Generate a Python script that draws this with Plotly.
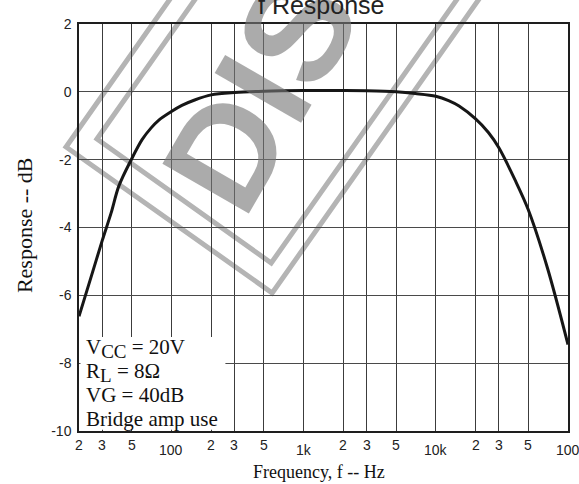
import math
import plotly.graph_objects as go

# ---- data ----
freq_hz = [20, 25, 30, 35, 40, 50, 60, 70, 80, 100, 120, 150, 200, 300, 500,
           1000, 2000, 3000, 5000, 7000, 10000, 12500, 15000, 20000, 25000,
           30000, 40000, 50000, 70000, 100000]
response_db = [-6.62, -5.39, -4.38, -3.57, -2.78, -1.98, -1.41, -1.07, -0.84,
               -0.58, -0.40, -0.24, -0.09, -0.02, 0.02, 0.04, 0.04, 0.03,
               0.00, -0.05, -0.13, -0.26, -0.42, -0.80, -1.20, -1.65, -2.62,
               -3.47, -5.20, -7.45]

x_grid_vals = [30, 50, 100, 200, 300, 500, 1000, 2000, 3000, 5000,
               10000, 20000, 30000, 50000]
x_tick_vals = [20, 30, 50, 100, 200, 300, 500, 1000, 2000, 3000, 5000,
               10000, 20000, 30000, 50000, 100000]
x_tick_text = ["2", "3", "5", "100", "2", "3", "5", "1k", "2", "3", "5",
               "10k", "2", "3", "5", "100"]
x_tick_major = [False, False, False, True, False, False, False, True, False,
                False, False, True, False, False, False, True]
y_tick_vals = [-10, -8, -6, -4, -2, 0, 2]
note_lines = ["V<sub><span style='font-size:19px'>CC</span></sub> = 20V",
              "R<sub><span style='font-size:19px'>L</span></sub> = 8Ω",
              "VG = 40dB",
              "Bridge amp use"]

# ---- layout geometry (pixels) ----
W, H = 579, 484
L, R, T, B = 79, 9, 24, 53
PW, PH = W - L - R, H - T - B


def px(xp):
    return (xp - L) / PW


def py(yp):
    return (H - B - yp) / PH


SANS = "Liberation Sans, Arial, sans-serif"
SERIF = "Liberation Serif, Times New Roman, serif"

fig = go.Figure()
fig.add_trace(go.Scatter(
    x=freq_hz, y=response_db, mode="lines",
    line=dict(color="#161616", width=3, shape="spline", smoothing=0.9),
    showlegend=False, hoverinfo="skip"))

fig.update_layout(
    width=W, height=H,
    margin=dict(l=L, r=R, t=T, b=B, pad=0),
    paper_bgcolor="white", plot_bgcolor="white",
    showlegend=False,
    xaxis=dict(type="log", range=[math.log10(20), math.log10(100000)],
               tickvals=x_grid_vals, showticklabels=False, ticks="",
               showgrid=True, gridcolor="#3c3c3c", gridwidth=1,
               showline=True, mirror=True, linecolor="#1e1e1e", linewidth=1.5,
               zeroline=False, fixedrange=True),
    yaxis=dict(range=[-10, 2], tickvals=y_tick_vals,
               ticktext=[str(v) for v in y_tick_vals], ticks="",
               ticklabelstandoff=3,
               tickfont=dict(family=SANS, size=14, color="#222"),
               showgrid=True, gridcolor="#4a4a4a", gridwidth=1,
               showline=True, mirror=True, linecolor="#1e1e1e", linewidth=1.5,
               zeroline=False, fixedrange=True),
)

shapes = []


# watermark stamp outlines
def path_px(points):
    s = ""
    for i, (a, b) in enumerate(points):
        s += ("M" if i == 0 else "L") + f"{px(a):.4f},{py(b):.4f} "
    return s.strip()


for pts in ([(193, -33), (66, 147), (273, 293), (504, -34)],
            [(212, -24), (97, 139), (272, 263), (480, -31)]):
    shapes.append(dict(type="path", xref="paper", yref="paper",
                       path=path_px(pts),
                       line=dict(color="#b4b4b4", width=5), layer="below"))

# white box behind the condition text (inset so the frame stays visible)
shapes.append(dict(type="rect", xref="paper", yref="paper",
                   x0=px(80.5), x1=px(226), y0=py(429.8), y1=py(337),
                   fillcolor="white", line=dict(width=0), layer="above"))
fig.update_layout(shapes=shapes)

ann = []
# watermark text
ann.append(dict(text="<b>DIS</b>", xref="paper", yref="paper",
                x=px(262), y=py(92), xanchor="center", yanchor="middle",
                textangle=-60, showarrow=False,
                font=dict(family=SANS, size=145, color="rgba(120,120,120,0.62)")))

# x tick labels
for v, t, major in zip(x_tick_vals, x_tick_text, x_tick_major):
    ann.append(dict(text=t, x=math.log10(v), xref="x", yref="paper",
                    y=py(440.3 if major else 435.3), xanchor="center",
                    yanchor="top", showarrow=False, borderpad=1,
                    font=dict(family=SANS, size=14, color="#222")))

# condition text lines
for i, line in enumerate(note_lines):
    ann.append(dict(text=line, xref="paper", yref="paper", x=px(84),
                    y=py(333.3 + 24 * i), xanchor="left", yanchor="top",
                    showarrow=False, borderpad=1,
                    font=dict(family=SERIF, size=21, color="#111")))

# title & axis titles
ann.append(dict(text="f Response", xref="paper", yref="paper",
                x=px(322.4), y=py(-10.6), xanchor="center", yanchor="top",
                showarrow=False, borderpad=1,
                font=dict(family=SANS, size=25, color="#222")))
ann.append(dict(text="Frequency, f -- Hz", xref="paper", yref="paper",
                x=px(320), y=py(460.3), xanchor="center", yanchor="top",
                showarrow=False, borderpad=1,
                font=dict(family=SERIF, size=18, color="#111")))
ann.append(dict(text="Response -- dB", xref="paper", yref="paper",
                x=px(24.5), y=py(225.4), xanchor="center", yanchor="middle",
                textangle=-90, showarrow=False,
                font=dict(family=SERIF, size=22, color="#111")))
fig.update_layout(annotations=ann)

fig.write_html("out.html",
               config={"displayModeBar": False},
               post_script="document.body.style.margin='0';"
                           "document.body.style.overflow='hidden';")
